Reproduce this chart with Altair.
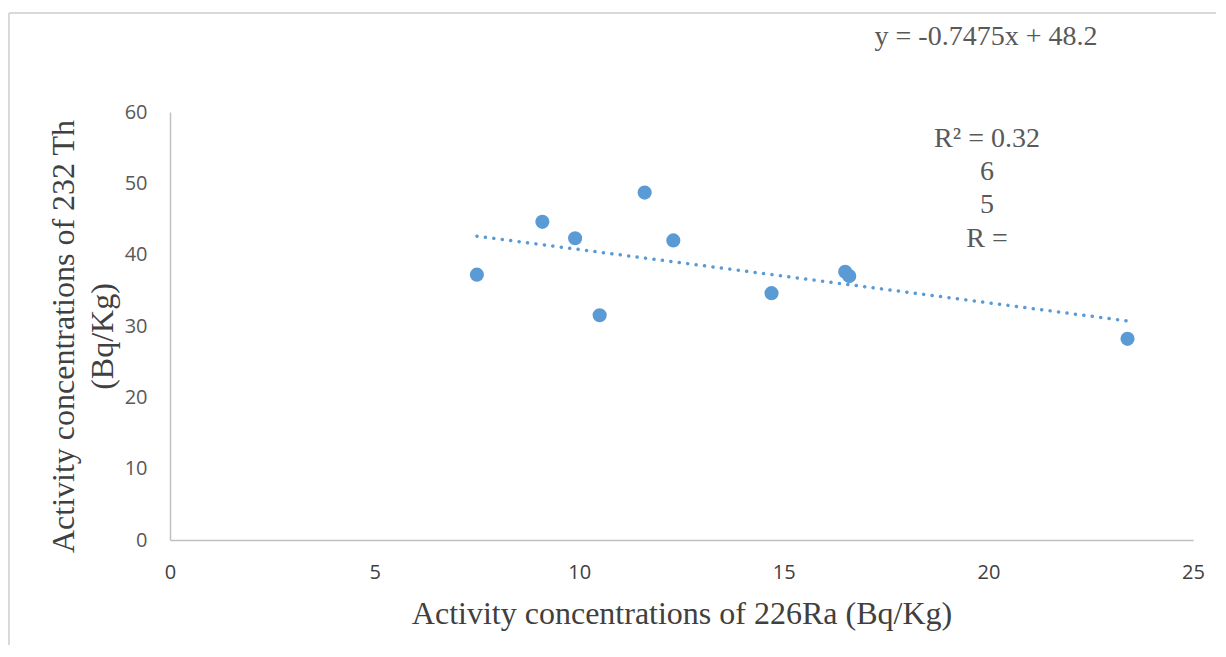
import altair as alt
import pandas as pd

# Data
ra = [7.5, 9.1, 9.9, 10.5, 11.6, 12.3, 14.7, 16.5, 16.6, 23.4]
th = [37.2, 44.6, 42.3, 31.5, 48.7, 42.0, 34.6, 37.6, 37.0, 28.2]
slope = -0.7475
intercept = 48.2
eq_text = "y = -0.7475x + 48.2"
r_lines = ["R² = 0.32", "6", "5", "R ="]
x_ticks = [0, 5, 10, 15, 20, 25]
y_ticks = [0, 10, 20, 30, 40, 50, 60]
x_title = "Activity concentrations of 226Ra (Bq/Kg)"
y_title = ["Activity concentrations of 232 Th", "(Bq/Kg)"]

W, H = 1023, 428
BLUE = "#5b9bd5"
SERIF = "Liberation Serif"
SANS = "Open Sans"

pts = pd.DataFrame({"ra": ra, "th": th})
x0, x1 = min(ra), max(ra)
trend = pd.DataFrame({"ra": [x0, x1], "th": [slope * x0 + intercept, slope * x1 + intercept]})
one = pd.DataFrame({"k": [0]})

xs = alt.Scale(domain=[0, 25], nice=False, zero=False)
ys = alt.Scale(domain=[0, 60], nice=False)

x_axis = alt.Axis(
    values=x_ticks, title=x_title, grid=False, ticks=False, tickSize=0,
    labelFlush=False,
    labelPadding=22, labelFont=SANS, labelFontSize=20, labelColor="#404040",
    titleFont=SERIF, titleFontSize=32, titleFontWeight="normal", titleColor="#404040",
    titleY=73, titleBaseline="middle",
    domainColor="#c0c0c0", domainWidth=1.5,
)
y_axis = alt.Axis(
    values=y_ticks, title=y_title, grid=False, ticks=False, tickSize=0,
    labelFlush=False,
    labelPadding=23, labelFont=SANS, labelFontSize=20, labelColor="#595959",
    titleFont=SERIF, titleFontSize=32, titleFontWeight="normal", titleColor="#404040",
    titleX=-97, titleY=224, titleBaseline="alphabetic", titleAlign="center",
    titleLineHeight=39,
    domainColor="#c0c0c0", domainWidth=1.5,
)

points = alt.Chart(pts).mark_circle(size=200, color=BLUE, opacity=1).encode(
    x=alt.X("ra:Q", scale=xs, axis=x_axis),
    y=alt.Y("th:Q", scale=ys, axis=y_axis),
)

line = alt.Chart(trend).mark_line(
    color=BLUE, strokeWidth=3.5, strokeDash=[0.1, 8.4], strokeCap="round"
).encode(
    x=alt.X("ra:Q", scale=xs),
    y=alt.Y("th:Q", scale=ys),
)

eq = alt.Chart(one).mark_text(
    text=eq_text, font=SERIF, fontSize=28, color="#595959", align="center", baseline="alphabetic"
).encode(x=alt.value(816), y=alt.value(-67))

rtxt = alt.Chart(one).mark_text(
    text=r_lines, font=SERIF, fontSize=28, color="#595959", align="center",
    baseline="alphabetic", lineHeight=33.3
).encode(x=alt.value(817), y=alt.value(34.7))

frame_top = alt.Chart(one).mark_rule(color="#d9d9d9", strokeWidth=2).encode(
    x=alt.value(-161), x2=alt.value(1046), y=alt.value(-99)
)
frame_left = alt.Chart(one).mark_rule(color="#d9d9d9", strokeWidth=2).encode(
    x=alt.value(-161), y=alt.value(-99), y2=alt.value(533)
)

chart = alt.layer(frame_top, frame_left, line, points, eq, rtxt).properties(
    width=W, height=H,
    autosize=alt.AutoSizeParams(type="none"),
    padding={"left": 162, "top": 104, "right": 23, "bottom": 105},
    background="white",
).configure_view(strokeWidth=0, stroke="transparent")

chart.save("out.html", embed_options={"renderer": "svg", "actions": False})
